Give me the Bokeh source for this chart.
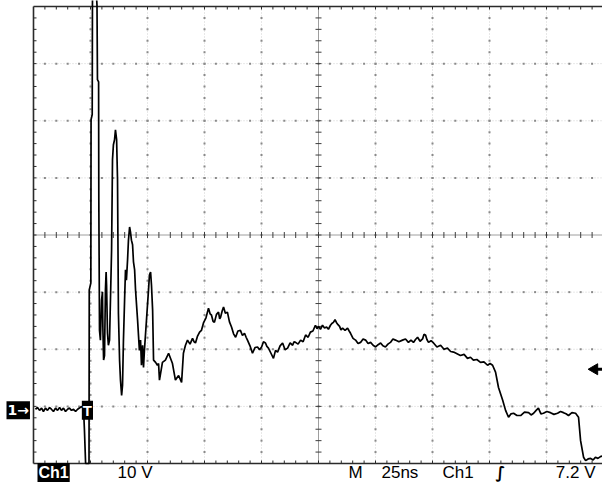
import numpy as np
from bokeh.plotting import figure
from bokeh.models import Label, Range1d
from bokeh.embed import file_html
from bokeh.resources import INLINE

# ---------------- scope settings ----------------
time_per_div = 25.0      # ns / div
volts_per_div = 10.0     # V / div
n_hdiv, n_vdiv = 10, 8
t_left = -23.25          # ns at left edge of screen
v_bottom = -9.3          # V at bottom edge of screen
trigger_level = 7.2      # V
ch_label = "Ch1"
scale_label = "10 V"
time_label = "25ns"

# ---------------- trace (clipped at screen edges) ----------------
pre_t = [-22.4, -21.5, -20.6, -19.7, -18.9, -18.0, -17.1, -16.2, -15.4, -14.5, -13.6, -12.7, -11.8,
         -11.0, -10.1, -9.2, -8.3, -7.5, -6.6, -5.7, -4.8, -3.9, -3.1, -2.2, -1.3]
pre_v = [0.2, 0.5, 0.0, 0.4, -0.2, 0.4, 0.0, 0.5, 0.2, -0.2, 0.4, 0.0, 0.5,
         0.0, 0.4, -0.2, 0.2, 0.4, 0.0, 0.2, -0.2, 0.2, 0.4, 0.7, 0.2]

edge_t = [-0.9, -0.4, 0.4, 1.1, 1.2, 1.9, 2.0, 2.5, 2.6, 2.7, 4.0, 4.6, 4.8, 5.3, 5.4, 5.7]
edge_v = [-3.5, -9.3, -9.3, -9.3, 21.1, 22.3, 50.9, 51.8, 70.9, 75.4, 75.4, 70.9, 57.9, 57.5, 36.8, 14.0]

ring_t = [6.1, 6.6, 7.0, 7.2, 7.5, 7.9, 8.3, 8.6, 8.8, 9.2, 9.6, 10.1, 10.5, 11.0, 11.4, 11.8, 12.3,
          12.7, 13.2, 13.6, 14.0, 14.5, 14.9, 15.4, 15.8, 16.2, 16.7, 17.1, 17.5, 18.0, 18.4, 18.9,
          19.3, 19.7, 20.2, 20.6, 21.1, 21.5, 22.4, 23.2, 23.7, 24.1, 24.6, 25.0, 25.4, 26.3, 27.2,
          27.6, 28.1, 28.5, 29.0, 29.4, 30.3, 31.1, 31.6, 32.0, 33.3, 34.6, 36.0, 37.7, 39.0, 40.4, 41.7]
ring_v = [12.3, 19.3, 20.7, 14.0, 8.8, 9.6, 21.1, 24.2, 21.9, 13.5, 11.4, 12.3, 19.3, 28.1, 43.9, 46.5, 47.4,
          49.1, 47.4, 40.4, 17.0, 8.8, 5.3, 2.6, 4.4, 12.3, 19.3, 24.6, 22.8, 26.3, 29.8, 32.1,
          31.2, 29.8, 29.0, 26.0, 24.6, 21.1, 15.8, 10.5, 12.3, 7.9, 11.4, 7.5, 10.5, 15.8, 21.1,
          23.7, 24.2, 21.9, 17.5, 8.8, 8.4, 7.9, 8.2, 5.3, 8.4, 8.8, 10.0, 8.2, 5.3, 6.1, 4.9]

plateau_t = [42.5, 43.4, 44.3, 45.4, 46.5, 47.2, 47.8, 48.7, 49.6, 50.4, 51.3, 52.4, 53.5, 54.2, 54.8,
             55.5, 56.1, 57.0, 57.9, 58.4, 58.8, 59.5, 60.1, 60.9, 61.8, 62.7, 63.6, 64.5, 65.4, 66.4,
             67.5, 68.4, 69.3, 70.0, 70.6, 71.7, 72.8, 73.9, 75.0, 75.9, 76.8, 77.6, 78.5, 79.1, 79.8,
             80.9, 82.0, 82.9, 83.8, 84.9, 86.0, 87.1, 88.2, 89.3, 90.4, 91.0, 91.7, 92.8, 93.9, 95.0,
             96.1, 97.2, 98.2, 99.3, 100.4, 101.1, 101.8, 102.6, 103.5, 104.4, 105.3, 106.1, 107.0,
             107.6, 108.3, 109.0, 109.6, 110.3, 111.0, 111.6, 112.3, 113.4, 114.5, 115.2, 115.8, 116.9,
             118.0, 119.1, 120.2, 121.3, 122.4, 123.5, 124.6, 125.7, 126.8, 127.9, 129.0, 130.0, 131.1,
             132.2, 133.3, 134.4, 135.5, 137.0, 138.6, 139.9, 141.2, 142.3, 143.4, 144.3, 145.2, 146.3,
             147.4, 148.0, 148.7, 149.3, 150.0, 151.1, 152.2, 153.7, 155.3, 156.8, 158.3, 159.7, 161.0,
             162.5, 164.0, 165.6, 167.1, 168.4, 169.7, 171.2, 172.8, 174.3, 175.9, 177.0, 178.1]
plateau_v = [10.0, 11.4, 12.3, 11.6, 12.6, 12.0, 11.8, 13.0, 13.7, 14.0, 15.3, 16.2, 17.9, 16.9, 16.7,
             15.6, 15.4, 16.8, 17.2, 16.0, 16.3, 17.4, 18.1, 17.0, 17.2, 15.5, 14.6, 13.4, 12.8, 13.9,
             14.0, 13.1, 13.5, 12.8, 12.3, 11.3, 10.0, 11.0, 11.1, 10.6, 11.1, 12.0, 11.8, 11.2, 10.9,
             10.0, 9.1, 10.5, 10.2, 11.3, 11.8, 10.6, 10.9, 11.8, 11.4, 12.0, 11.9, 11.6, 12.3, 12.0,
             13.2, 12.8, 13.7, 13.9, 14.9, 14.3, 14.7, 14.2, 14.9, 14.4, 14.6, 14.2, 14.9,
             15.2, 15.4, 15.9, 15.4, 15.0, 14.7, 14.1, 14.4, 14.0, 14.4, 13.9, 13.5, 12.6,
             12.3, 11.7, 11.9, 12.5, 12.3, 11.7, 11.9, 11.4, 11.1, 11.5, 11.8, 11.3, 11.1,
             11.6, 11.9, 12.5, 12.3, 12.0, 12.3, 12.5, 11.9, 12.3, 11.9, 12.4, 12.8, 12.1,
             12.5, 13.3, 13.2, 12.4, 11.9, 12.2, 11.8, 11.1, 11.4, 10.7, 10.9, 10.3, 10.2,
             9.9, 9.6, 9.8, 9.1, 9.3, 8.8, 8.9, 8.4, 8.5, 7.9, 8.2, 7.9]

tail_t = [179.4, 180.7, 182.5, 183.8, 185.1, 186.2, 187.3, 188.8, 190.4, 192.1, 193.9, 195.0, 196.1,
          197.2, 198.2, 199.3, 200.4, 201.9, 203.5, 205.0, 206.6, 207.9, 209.2, 210.3, 211.4, 212.9,
          214.5, 215.8, 216.7, 218.0, 218.9, 220.0, 221.1, 222.2, 223.2, 224.3, 225.4, 226.8]
tail_v = [6.7, 4.0, 1.8, 0.0, -1.2, -0.6, -0.5, -0.9, -0.9, -0.3, -0.4, -0.8, -0.5,
          0.0, 0.4, -0.6, -0.5, -0.2, -0.4, -0.7, -0.5, -0.2, -0.4, -0.6, -0.9, -0.4,
          -0.5, -1.2, -5.3, -8.2, -8.8, -8.5, -8.4, -8.7, -8.2, -8.4, -8.1, -7.9]

time_ns = pre_t + edge_t + ring_t + plateau_t + tail_t
volts = pre_v + edge_v + ring_v + plateau_v + tail_v

# ---------------- layout (whole canvas is the plotting frame) ----------------
W, H = 602, 486
SX0, SY0, SY1 = 33, 6, 463          # screen graticule left / top / bottom, px
px_t = (n_hdiv * time_per_div) / 570.0          # ns per pixel
px_v = (n_vdiv * volts_per_div) / (SY1 - SY0)   # V per pixel

def tx(px):
    return t_left + (px - SX0) * px_t

def vy(py):
    return v_bottom + (SY1 - py) * px_v

t_right = t_left + n_hdiv * time_per_div
v_top = v_bottom + n_vdiv * volts_per_div

p = figure(width=W, height=H, output_backend="svg", toolbar_location=None,
           x_range=Range1d(tx(0), tx(W)), y_range=Range1d(vy(H), vy(0)),
           x_axis_type=None, y_axis_type=None,
           min_border_left=0, min_border_right=0, min_border_top=0, min_border_bottom=0)
p.outline_line_color = None
p.background_fill_color = "white"
p.border_fill_color = "white"
p.grid.visible = False

t_c = t_left + n_hdiv / 2 * time_per_div
v_c = v_bottom + n_vdiv / 2 * volts_per_div

# graticule lines (light dotted)
vx = [t_left + k * time_per_div for k in range(1, n_hdiv + 1) if k != n_hdiv // 2]
hy = [v_bottom + k * volts_per_div for k in range(1, n_vdiv) if k != n_vdiv // 2]
p.segment(x0=vx, y0=[v_bottom] * len(vx), x1=vx, y1=[v_top] * len(vx),
          line_color="#d0d0d0", line_width=1, line_dash="1 2")
p.segment(x0=[t_left] * len(hy), y0=hy, x1=[t_right] * len(hy), y1=hy,
          line_color="#d0d0d0", line_width=1, line_dash="1 2")

# darker dots at each fifth of a division on graticule lines
sub_v = [v_bottom + j * volts_per_div / 5 for j in range(1, n_vdiv * 5)]
sub_t = [t_left + j * time_per_div / 5 for j in range(1, n_hdiv * 5)]
dx, dy = [], []
for x in vx:
    dx += [x] * len(sub_v); dy += sub_v
for y in hy:
    dx += sub_t; dy += [y] * len(sub_t)
p.scatter(dx, dy, marker="square", size=2, fill_color="#8a8a8a", line_color=None)

# centre cross-hair with minor ticks
p.segment(x0=[t_left, t_c], y0=[v_c, v_bottom], x1=[t_right, t_c], y1=[v_c, v_top],
          line_color="#3c3c3c", line_width=1, line_dash="1 1")
tk_t = 3 * px_t
tk_v = 3 * px_v
p.segment(x0=sub_t, y0=[v_c - tk_v] * len(sub_t), x1=sub_t, y1=[v_c + tk_v] * len(sub_t),
          line_color="#3c3c3c", line_width=1)
p.segment(x0=[t_c - tk_t] * len(sub_v), y0=sub_v, x1=[t_c + tk_t] * len(sub_v), y1=sub_v,
          line_color="#3c3c3c", line_width=1)

# borders with inner ticks
p.segment(x0=[t_left, t_left, t_left], y0=[v_bottom, v_bottom, v_top],
          x1=[t_left, t_right, t_right], y1=[v_top, v_bottom, v_top],
          line_color="#2a2a2a", line_width=1.6)
p.segment(x0=[t_left] * len(sub_v), y0=sub_v, x1=[t_left + tk_t] * len(sub_v), y1=sub_v,
          line_color="#2a2a2a", line_width=1)
p.segment(x0=sub_t, y0=[v_bottom] * len(sub_t), x1=sub_t, y1=[v_bottom + tk_v] * len(sub_t),
          line_color="#2a2a2a", line_width=1)
p.segment(x0=sub_t, y0=[v_top] * len(sub_t), x1=sub_t, y1=[v_top - tk_v] * len(sub_t),
          line_color="#2a2a2a", line_width=1)

# waveform
p.line(time_ns, volts, line_color="black", line_width=1.7)

# trigger level arrow at right edge
p.segment(x0=[tx(595)], y0=[trigger_level], x1=[tx(W)], y1=[trigger_level],
          line_color="black", line_width=3)
p.scatter([tx(594)], [trigger_level], marker="triangle", angle=np.pi / 2,
          size=11, fill_color="black", line_color="black")

FONT = "Liberation Sans"
y_txt = vy(472)

def lab(x, text, align="left", color="black", bg=None, bold=False, size="17px", y=y_txt,
        baseline="alphabetic", font=FONT, pad=0):
    kw = {}
    if bg is not None:
        kw = dict(background_fill_color=bg, padding=pad)
    p.add_layout(Label(x=x, y=y, text=text, text_align=align, text_baseline=baseline,
                       text_color=color, text_font=font, text_font_size=size,
                       text_font_style="bold" if bold else "normal", **kw))

lab(tx(37), ch_label, color="white", bg="black", bold=True, size="16px", pad=1)
lab(tx(117), scale_label)
lab(tx(348), "M")
lab(tx(381), time_label)
lab(tx(442), ch_label)
lab(tx(495), "∫", bold=True, size="16px", font="DejaVu Sans")
lab(tx(595), "{} V".format(trigger_level), align="right")

# ground marker and trigger-position marker
lab(tx(6), "1→", color="white", bg="black", bold=True, size="14px", y=0.0,
    baseline="middle", font="DejaVu Sans", pad=1)
lab(0.4, "T", color="white", bg="black", bold=True, size="15px", y=0.0, align="center",
    baseline="middle", pad=1)

open("out.html", "w").write(file_html(p, INLINE))
